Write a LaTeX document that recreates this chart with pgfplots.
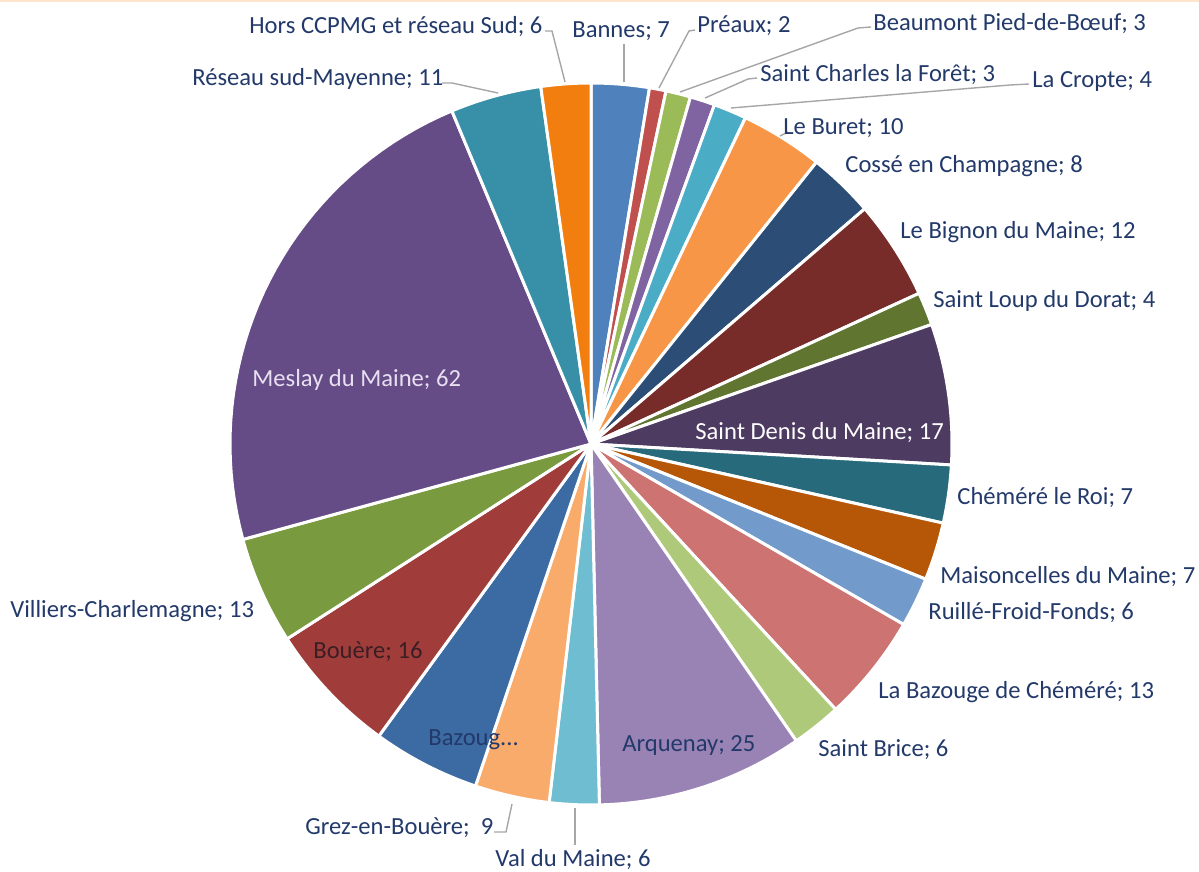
\documentclass[border=0pt]{standalone}
\usepackage{pgfplots}
\usepackage{pgfplotstable}
\usepackage{fontspec}
\setmainfont{Carlito}
\pgfplotsset{compat=1.18}

\definecolor{c1}{HTML}{4F81BD}
\definecolor{c2}{HTML}{C0504D}
\definecolor{c3}{HTML}{9BBB59}
\definecolor{c4}{HTML}{8064A2}
\definecolor{c5}{HTML}{4BACC6}
\definecolor{c6}{HTML}{F79646}
\definecolor{c7}{HTML}{2C4D75}
\definecolor{c8}{HTML}{772C2A}
\definecolor{c9}{HTML}{5F7530}
\definecolor{c10}{HTML}{4D3B62}
\definecolor{c11}{HTML}{276A7C}
\definecolor{c12}{HTML}{B65708}
\definecolor{c13}{HTML}{729ACA}
\definecolor{c14}{HTML}{CD7371}
\definecolor{c15}{HTML}{AFC97A}
\definecolor{c16}{HTML}{9983B5}
\definecolor{c17}{HTML}{6FBDD1}
\definecolor{c18}{HTML}{F9AB6B}
\definecolor{c19}{HTML}{3C6AA2}
\definecolor{c20}{HTML}{A03D3A}
\definecolor{c21}{HTML}{799A3E}
\definecolor{c22}{HTML}{664C86}
\definecolor{c23}{HTML}{3790A8}
\definecolor{c24}{HTML}{F27E0F}
\definecolor{labtext}{HTML}{22396A}
\definecolor{leadgray}{HTML}{A6A6A6}
\definecolor{bouere}{HTML}{3B1E24}
\definecolor{meslay}{HTML}{E8E0F2}

\tikzset{
  lab/.style={font=\fontsize{12.3}{14}\selectfont, text=labtext, inner sep=0pt, anchor=west},
  lead/.style={draw=leadgray, line width=0.7pt},
}

% slices clockwise from 12 o'clock
\pgfplotstableread{
value color
7  c1
2  c2
3  c3
3  c4
4  c5
10 c6
8  c7
12 c8
4  c9
17 c10
7  c11
7  c12
6  c13
13 c14
6  c15
25 c16
6  c17
9  c18
13 c19
16 c20
13 c21
62 c22
11 c23
6  c24
}\pietable

% total of the table
\pgfplotstablegetrowsof{\pietable}
\pgfmathtruncatemacro\nlast{\pgfplotsretval-1}
\def\total{0}
\pgfplotsforeachungrouped \i in {0,...,\nlast}{%
  \pgfplotstablegetelem{\i}{value}\of\pietable
  \pgfmathsetmacro\total{\total+\pgfplotsretval}%
}

\def\cx{591}
\def\cy{444}
\def\rr{361}

\begin{document}
\begin{tikzpicture}
\begin{axis}[
    name=ax,
    hide axis,
    scale only axis,
    width=599.5pt, height=436pt,
    xmin=0, xmax=1199, ymin=0, ymax=872,
    y dir=reverse,
    clip=false,
    ]
\def\cum{0}
\pgfplotsforeachungrouped \i in {0,...,\nlast}{%
  \pgfplotstablegetelem{\i}{value}\of\pietable \let\sval\pgfplotsretval
  \pgfplotstablegetelem{\i}{color}\of\pietable \let\scol\pgfplotsretval
  \pgfmathsetmacro\sa{\cum/\total*360}%
  \pgfmathsetmacro\cumnew{\cum+\sval}%
  \pgfmathsetmacro\sb{\cumnew/\total*360}%
  \edef\tmp{\noexpand\addplot[fill=\scol, draw=white, line width=1.5pt,
      line join=round, domain=\sa:\sb, samples=40, variable=\noexpand\t]
    ({\cx+\rr*sin(\noexpand\t)}, {\cy-\rr*cos(\noexpand\t)})
    -- (axis cs:\cx,\cy) -- cycle;}%
  \tmp
  \global\let\cum\cumnew
}

% faint line along the top edge
\addplot[draw=orange!20, line width=1pt] coordinates {(0,1) (1199,1)};

% leader lines
\addplot[lead] coordinates {(545,31) (552,31) (565,82)};
\addplot[lead] coordinates {(624,44) (624,82)};
\addplot[lead] coordinates {(695,30) (689,31) (659,88)};
\addplot[lead] coordinates {(871,27) (858,28) (680,92)};
\addplot[lead] coordinates {(757,78) (748,79) (705,98)};
\addplot[lead] coordinates {(1029,84) (1010,85) (731,108)};
\addplot[lead] coordinates {(788,132) (780,136)};
\addplot[lead] coordinates {(442,83) (452,83) (498,93)};
\addplot[lead] coordinates {(575,808) (575,845)};
\addplot[lead] coordinates {(494,832) (506,832) (512,804)};

% labels
\node[lab] at (axis cs:249,27)  {Hors CCPMG et réseau Sud; 6};
\node[lab] at (axis cs:572,31)  {Bannes; 7};
\node[lab] at (axis cs:697,26)  {Préaux; 2};
\node[lab] at (axis cs:873,24)  {Beaumont Pied-de-Bœuf; 3};
\node[lab] at (axis cs:760,75)  {Saint Charles la Forêt; 3};
\node[lab] at (axis cs:1032,82) {La Cropte; 4};
\node[lab] at (axis cs:783,128) {Le Buret; 10};
\node[lab] at (axis cs:845,166) {Cossé en Champagne; 8};
\node[lab] at (axis cs:900,232) {Le Bignon du Maine; 12};
\node[lab] at (axis cs:933,301) {Saint Loup du Dorat; 4};
\node[lab, text=white] at (axis cs:695,433) {Saint Denis du Maine; 17};
\node[lab] at (axis cs:957,498) {Chéméré le Roi; 7};
\node[lab] at (axis cs:940,577) {Maisoncelles du Maine; 7};
\node[lab] at (axis cs:928,613) {Ruillé-Froid-Fonds; 6};
\node[lab] at (axis cs:878,692) {La Bazouge de Chéméré; 13};
\node[lab] at (axis cs:818,750) {Saint Brice; 6};
\node[lab] at (axis cs:622,745) {Arquenay; 25};
\node[lab] at (axis cs:495,860) {Val du Maine; 6};
\node[lab] at (axis cs:305,828) {Grez-en-Bouère;\ \ 9};
\node[lab] at (axis cs:428,740) {Bazoug...};
\node[lab, text=bouere] at (axis cs:313,652) {Bouère; 16};
\node[lab] at (axis cs:10,611)  {Villiers-Charlemagne; 13};
\node[lab, text=meslay] at (axis cs:252,380) {Meslay du Maine; 62};
\node[lab] at (axis cs:192,79)  {Réseau sud-Mayenne; 11};
\end{axis}
\pgfresetboundingbox
\path[use as bounding box] (ax.south west) rectangle (ax.north east);
\end{tikzpicture}
\end{document}
